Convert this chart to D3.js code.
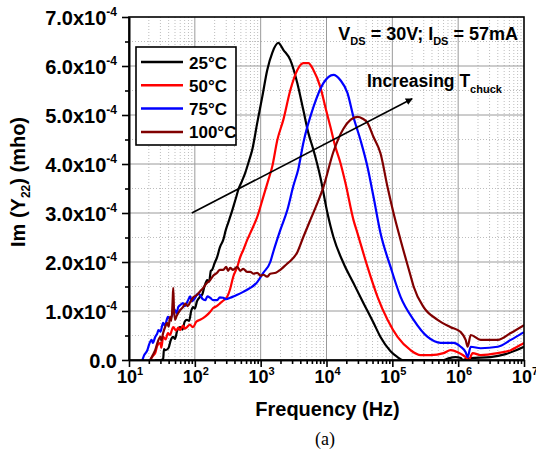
<!DOCTYPE html>
<html>
<head>
<meta charset="utf-8">
<script src="https://cdn.jsdelivr.net/npm/d3@7"></script>
<style>
    body { margin: 0; background: #fff; }
    svg { display: block; }
    text { font-family: "Liberation Sans", Arial, sans-serif; font-weight: bold; fill: #000; }
</style>
</head>
<body>
<div id="chart"></div>
<script>

// data: [frequency in Hz, Im(Y22) in units of 1e-4 mho]
var curve25 = [[25,0],[30,0],[33,0.02],[34,0.22],[36,0.2],[40,0.25],[43,0.4],[47,0.47],[50,0.43],[54,0.6],[60,0.67],[65,0.62],[70,0.78],[76,0.82],[82,0.8],[88,1.0],[94,1.08],[100,1.05],[108,1.2],[120,1.29],[130,1.34],[140,1.5],[154,1.63],[165,1.6],[175,1.82],[183,1.84],[200,1.98],[218,2.1],[240,2.3],[270,2.45],[295,2.65],[321,2.8],[350,2.95],[383,3.12],[420,3.3],[456,3.47],[520,3.65],[583,3.82],[660,4.05],[745,4.29],[887,4.84],[1057,5.37],[1259,5.92],[1500,6.27],[1854,6.47],[2208,6.33],[2825,6.12],[3606,5.65],[4446,5.1],[5309,4.63],[6324,4.29],[8072,3.73],[10330,3.0],[12740,2.51],[18070,1.98],[25650,1.57],[36480,1.16],[51760,0.76],[66070,0.47],[93970,0.18],[120000,0.06],[142900,0],[600000,0],[700000,0.03],[912000,0.06],[1100000,0.04],[1175000,0],[1300000,0.02],[1549000,0.04],[3090000,0.06],[5250000,0.12],[7590000,0.2],[10000000,0.27]];

var curve50 = [[21,0],[23,0.08],[25,0.14],[27,0.3],[30,0.35],[31,0.25],[33,0.47],[36,0.42],[39,0.55],[42,0.51],[45,0.62],[47,0.67],[52,0.6],[56,0.66],[60,0.61],[66,0.7],[70,0.64],[76,0.67],[84,0.72],[94,0.67],[105,0.78],[120,0.82],[135,0.86],[154,0.92],[170,0.98],[190,1.06],[215,1.1],[243,1.16],[275,1.22],[310,1.29],[344,1.45],[383,1.7],[441,1.9],[489,2.1],[543,2.24],[625,2.45],[695,2.59],[887,2.92],[1096,3.33],[1306,3.67],[1500,3.95],[1791,4.49],[2208,4.9],[2825,5.51],[3606,5.92],[4446,6.06],[5309,6.06],[6324,5.92],[8072,5.57],[9616,5.16],[11460,4.76],[13650,4.35],[16290,4.02],[19410,3.61],[25650,2.86],[29510,2.59],[41980,1.9],[59570,1.29],[84530,0.82],[120000,0.47],[189200,0.2],[268500,0.1],[381100,0.1],[601200,0.14],[769100,0.2],[982000,0.16],[1300000,0.06],[1445000,0],[1663000,0.14],[2198000,0.1],[3990000,0.14],[6295000,0.2],[8933000,0.31],[10000000,0.35]];

var curve75 = [[16,0],[17,0.1],[19,0.2],[20,0.3],[22,0.41],[23,0.35],[25,0.47],[27,0.55],[28,0.61],[30,0.58],[33,0.76],[35,0.7],[39,0.88],[42,0.84],[47,0.96],[50,1.02],[53,0.95],[56,1.08],[60,1.12],[66,1.16],[70,1.1],[79,1.22],[85,1.3],[90,1.2],[101,1.27],[110,1.35],[120,1.33],[130,1.25],[144,1.22],[155,1.3],[171,1.27],[190,1.22],[218,1.22],[240,1.28],[270,1.27],[300,1.24],[344,1.27],[390,1.3],[441,1.33],[543,1.39],[695,1.47],[887,1.59],[1096,1.78],[1400,2.0],[1549,2.2],[1986,2.65],[2541,3.06],[3133,3.55],[3733,3.9],[4446,4.43],[6324,5.16],[8974,5.65],[12740,5.82],[16290,5.71],[20800,5.45],[25650,4.96],[32810,4.49],[41980,3.94],[51760,3.33],[66070,2.59],[93970,1.9],[133400,1.29],[210400,0.82],[343600,0.47],[542000,0.35],[855000,0.35],[1091000,0.27],[1300000,0.16],[1396000,0.06],[1549000,0.27],[2198000,0.24],[3990000,0.27],[6295000,0.41],[10000000,0.57]];

var curve100 = [[21,0],[23,0.1],[25,0.2],[27,0.35],[30,0.47],[31,0.4],[33,0.55],[36,0.7],[38,0.76],[40,0.68],[42,0.88],[44,0.8],[46,1.2],[47,1.47],[48,1.1],[50,0.82],[53,0.9],[56,0.96],[60,1.02],[66,1.08],[72,1.15],[78,1.1],[85,1.18],[95,1.28],[108,1.33],[120,1.4],[134,1.47],[150,1.56],[171,1.63],[190,1.72],[218,1.78],[240,1.84],[270,1.84],[300,1.9],[320,1.82],[344,1.88],[380,1.84],[441,1.9],[490,1.82],[543,1.86],[620,1.8],[695,1.8],[780,1.76],[887,1.78],[1000,1.72],[1096,1.74],[1250,1.7],[1400,1.76],[1700,1.78],[1986,1.84],[2500,1.96],[2825,2.02],[3606,2.2],[4446,2.51],[5689,2.86],[7261,3.2],[8974,3.53],[12740,4.25],[18070,4.72],[23120,4.9],[29510,4.96],[35000,4.93],[41980,4.84],[51760,4.55],[66070,4.22],[84530,3.53],[104200,3.0],[133400,2.45],[189200,1.72],[210400,1.5],[298500,1.08],[487500,0.82],[769100,0.67],[1091000,0.57],[1300000,0.41],[1396000,0.27],[1549000,0.51],[2198000,0.41],[3990000,0.41],[6295000,0.55],[10000000,0.71]];

var seriesNames = ["25\u00B0C", "50\u00B0C", "75\u00B0C", "100\u00B0C"];
var seriesColors = ["#000000", "#ff0000", "#0000ff", "#800000"];
var seriesData = [curve25, curve50, curve75, curve100];

// tick labels
var xTickValues = [1e1, 1e2, 1e3, 1e4, 1e5, 1e6, 1e7];
var xTickExponents = ["1", "2", "3", "4", "5", "6", "7"];
var yTickValues = [0, 1, 2, 3, 4, 5, 6, 7];
var yTickLabels = ["0.0", "1.0", "2.0", "3.0", "4.0", "5.0", "6.0", "7.0"];

// annotation arrow, in data units
var arrowFrom = [90, 3.0];
var arrowTo = [2.0e5, 5.33];

var totalWidth = 536, totalHeight = 456;
var margin = {top: 17, right: 12, bottom: 96, left: 129};
var width = totalWidth - margin.left - margin.right;
var height = totalHeight - margin.top - margin.bottom;

var svg = d3.select("#chart").append("svg")
    .attr("width", totalWidth)
    .attr("height", totalHeight);

var g = svg.append("g").attr("transform", "translate(" + margin.left + "," + margin.top + ")");

var x = d3.scaleLog().domain([10, 1e7]).range([0, width]);
var y = d3.scaleLinear().domain([0, 7]).range([height, 0]);

// minor positions: 2..9 of each decade, and half steps on y
var xMinor = x.ticks().filter(function (v) { return xTickValues.indexOf(v) < 0; });
var yMinor = d3.range(0.5, 7, 1);

// minor grid (dotted)
g.append("g").selectAll("line.vminor")
    .data(xMinor).enter().append("line")
    .attr("x1", function (d) { return x(d); }).attr("x2", function (d) { return x(d); })
    .attr("y1", 0).attr("y2", height)
    .attr("stroke", "#bdbdbd").attr("stroke-width", 1).attr("stroke-dasharray", "1,2");
g.append("g").selectAll("line.hminor")
    .data(yMinor).enter().append("line")
    .attr("x1", 0).attr("x2", width)
    .attr("y1", function (d) { return y(d); }).attr("y2", function (d) { return y(d); })
    .attr("stroke", "#bdbdbd").attr("stroke-width", 1).attr("stroke-dasharray", "1,2");

// major grid
g.append("g").selectAll("line")
    .data(xTickValues.slice(1, -1)).enter().append("line")
    .attr("x1", function (d) { return x(d); }).attr("x2", function (d) { return x(d); })
    .attr("y1", 0).attr("y2", height)
    .attr("stroke", "#9a9a9a").attr("stroke-width", 1);
g.append("g").selectAll("line")
    .data(yTickValues.slice(1, -1)).enter().append("line")
    .attr("x1", 0).attr("x2", width)
    .attr("y1", function (d) { return y(d); }).attr("y2", function (d) { return y(d); })
    .attr("stroke", "#9a9a9a").attr("stroke-width", 1);

// curves
svg.append("defs").append("clipPath").attr("id", "plotclip")
    .append("rect").attr("width", width).attr("height", height + 1);

var line = d3.line()
    .x(function (d) { return x(d[0]); })
    .y(function (d) { return y(d[1]); })
    .curve(d3.curveMonotoneX);

g.append("g").attr("clip-path", "url(#plotclip)")
    .selectAll("path")
    .data(seriesData).enter().append("path")
    .attr("d", line)
    .attr("fill", "none")
    .attr("stroke", function (d, i) { return seriesColors[i]; })
    .attr("stroke-width", 2.2)
    .attr("stroke-linejoin", "round");

// frame
g.append("rect")
    .attr("width", width).attr("height", height)
    .attr("fill", "none").attr("stroke", "#000").attr("stroke-width", 1.6);

// x axis
var xAxisG = g.append("g").attr("transform", "translate(0," + height + ")");
xAxisG.call(d3.axisBottom(x).tickValues(xMinor).tickSize(4).tickSizeOuter(0).tickFormat(""));
xAxisG.append("g").call(d3.axisBottom(x).tickValues(xTickValues).tickSize(7).tickSizeOuter(0).tickFormat(""));
xAxisG.selectAll("line, path").attr("stroke", "#000").attr("stroke-width", 1.6);

var xLabels = xAxisG.append("g").selectAll("text")
    .data(xTickValues).enter().append("text")
    .attr("x", function (d) { return x(d) + 1; })
    .attr("y", 23)
    .attr("text-anchor", "middle")
    .style("font-size", "18px");
xLabels.append("tspan").text("10");
xLabels.append("tspan")
    .attr("dy", -8).style("font-size", "11px")
    .text(function (d, i) { return xTickExponents[i]; });

// y axis
var yAxisG = g.append("g");
yAxisG.call(d3.axisLeft(y).tickValues(yMinor).tickSize(4).tickSizeOuter(0).tickFormat(""));
yAxisG.append("g").call(d3.axisLeft(y).tickValues(yTickValues).tickSize(7).tickSizeOuter(0).tickFormat(""));
yAxisG.selectAll("line, path").attr("stroke", "#000").attr("stroke-width", 1.6);

var yLabels = yAxisG.append("g").selectAll("text")
    .data(yTickValues).enter().append("text")
    .attr("x", -12)
    .attr("y", function (d) { return y(d) + 8; })
    .attr("text-anchor", "end")
    .style("font-size", "20px");
yLabels.append("tspan").text(function (d, i) { return i === 0 ? yTickLabels[i] : yTickLabels[i] + "x10"; });
yLabels.filter(function (d, i) { return i > 0; })
    .append("tspan")
    .attr("dy", -9).style("font-size", "12px")
    .text("-4");

// axis titles
svg.append("text")
    .attr("x", margin.left + width / 2 + 1)
    .attr("y", 416)
    .attr("text-anchor", "middle")
    .style("font-size", "20px")
    .text("Frequency (Hz)");

var yTitle = svg.append("text")
    .attr("transform", "translate(25," + 182 + ") rotate(-90)")
    .attr("text-anchor", "middle")
    .style("font-size", "20px");
yTitle.append("tspan").text("Im (Y");
yTitle.append("tspan").attr("dy", 5).style("font-size", "12px").text("22");
yTitle.append("tspan").attr("dy", -5).text(") (mho)");

svg.append("text")
    .attr("x", 325).attr("y", 445)
    .attr("text-anchor", "middle")
    .style("font-family", "'Liberation Serif', 'Times New Roman', serif")
    .style("font-weight", "normal")
    .style("font-size", "18px")
    .text("(a)");

// condition text
var cond = g.append("text")
    .attr("x", width - 6).attr("y", 23)
    .attr("text-anchor", "end")
    .style("font-size", "18px");
cond.append("tspan").text("V");
cond.append("tspan").attr("dy", 5).style("font-size", "11px").text("DS");
cond.append("tspan").attr("dy", -5).text(" = 30V; I");
cond.append("tspan").attr("dy", 5).style("font-size", "11px").text("DS");
cond.append("tspan").attr("dy", -5).text(" = 57mA");

// annotation
svg.select("defs").append("marker")
    .attr("id", "arrowhead")
    .attr("viewBox", "0 0 10 10")
    .attr("refX", 9).attr("refY", 5)
    .attr("markerWidth", 7).attr("markerHeight", 7)
    .attr("markerUnits", "userSpaceOnUse")
    .attr("orient", "auto")
    .append("path").attr("d", "M0,0 L10,5 L0,10 z").attr("fill", "#000");

g.append("line")
    .attr("x1", x(arrowFrom[0])).attr("y1", y(arrowFrom[1]))
    .attr("x2", x(arrowTo[0])).attr("y2", y(arrowTo[1]))
    .attr("stroke", "#000").attr("stroke-width", 1.6)
    .attr("marker-end", "url(#arrowhead)");

var incr = g.append("text")
    .attr("x", 238).attr("y", 70)
    .style("font-size", "17.5px");
incr.append("tspan").text("Increasing T");
incr.append("tspan").attr("dy", 6).style("font-size", "11px").text("chuck");

// legend
var legend = g.append("g").attr("transform", "translate(7,30)");
legend.append("rect")
    .attr("width", 100).attr("height", 98)
    .attr("fill", "#fff").attr("stroke", "#000").attr("stroke-width", 1.6);

var legendItems = legend.selectAll("g.item")
    .data(seriesNames).enter().append("g")
    .attr("transform", function (d, i) { return "translate(0," + (15 + i * 23.3) + ")"; });
legendItems.append("line")
    .attr("x1", 5).attr("x2", 47)
    .attr("stroke", function (d, i) { return seriesColors[i]; })
    .attr("stroke-width", 2.5);
legendItems.append("text")
    .attr("x", 53).attr("y", 6.5)
    .style("font-size", "17px")
    .text(function (d) { return d; });

</script>
</body>
</html>
